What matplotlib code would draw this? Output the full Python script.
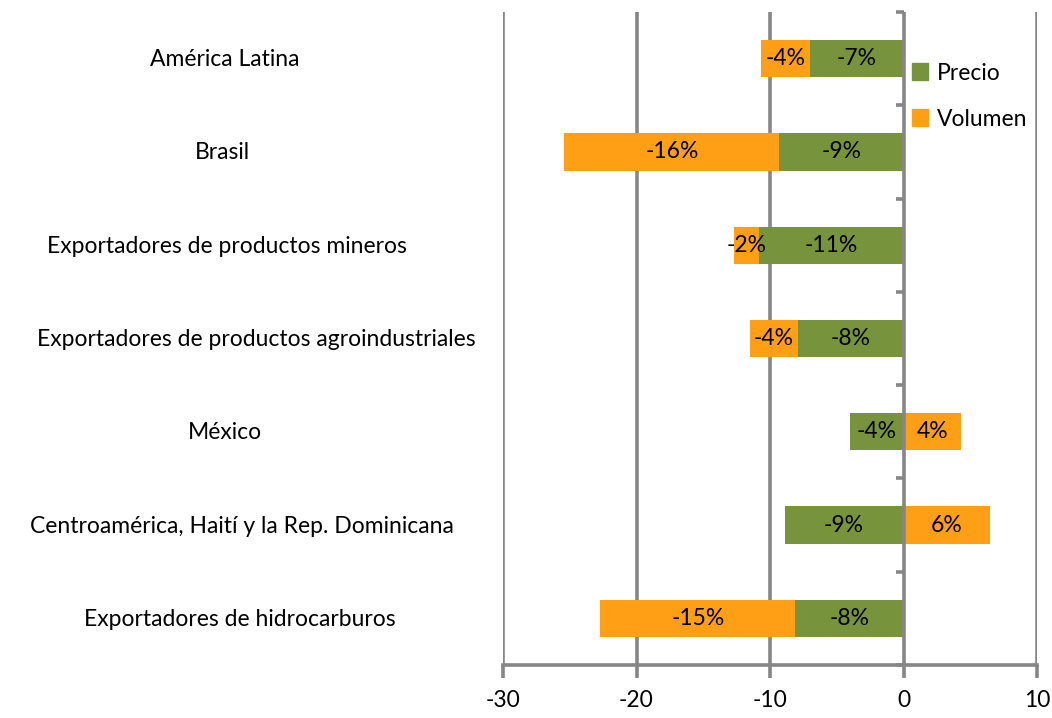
import matplotlib
matplotlib.use("Agg")
import matplotlib.pyplot as plt
from matplotlib.patches import Patch

plt.rcParams['font.family'] = ['Lato', 'DejaVu Sans']

categorias = [
    "América Latina",
    "Brasil",
    "Exportadores de productos mineros",
    "Exportadores de productos agroindustriales",
    "México",
    "Centroamérica, Haití y la Rep. Dominicana",
    "Exportadores de hidrocarburos",
]
precio = [-7.0, -9.3, -10.8, -7.9, -4.0, -8.9, -8.1]
volumen = [-3.7, -16.1, -1.9, -3.6, 4.3, 6.45, -14.6]
xticks = [-30, -20, -10, 0, 10]

VERDE = "#77933C"
NARANJA = "#FF9F15"
GRIS = "#868686"

W, H = 1052, 718
fig = plt.figure(figsize=(W / 100, H / 100), dpi=100)
ax = fig.add_axes([503 / W, 1 - 665 / H, (1037 - 503) / W, (665 - 12) / H])

n = len(categorias)
ys = list(range(n))
alto = 0.4
LW = 2.6

# price segment starts at zero; volume stacks after price when both share a sign
izq_vol = [p if (v < 0 and p < 0) or (v > 0 and p > 0) else 0 for p, v in zip(precio, volumen)]
ax.barh(ys, precio, height=alto, color=VERDE, zorder=3)
ax.barh(ys, volumen, left=izq_vol, height=alto, color=NARANJA, zorder=3)

fs = 16.5
for y, p, v, l in zip(ys, precio, volumen, izq_vol):
    ax.text(p / 2, y, f"{p:.0f}%", ha="center", va="center", fontsize=fs, zorder=5)
    ax.text(l + v / 2, y, f"{v:.0f}%", ha="center", va="center", fontsize=fs, zorder=5)

ax.set_xlim(-30, 10)
ax.set_ylim(n - 0.5, -0.5)
ax.set_xticks(xticks)
ax.set_xticklabels([str(t) for t in xticks], fontsize=fs)
ax.tick_params(axis="x", length=9, width=LW, color=GRIS, pad=9)
ax.set_yticks([])

for x in xticks:
    if x != 0:
        ax.axvline(x, color=GRIS, lw=LW, zorder=1)

for s in ["top", "right", "left"]:
    ax.spines[s].set_visible(False)
ax.spines["bottom"].set_color(GRIS)
ax.spines["bottom"].set_linewidth(LW)

# category axis at x = 0 with boundary ticks pointing left
ax.axvline(0, color=GRIS, lw=LW, zorder=4)
for b in range(n + 1):
    yb = b - 0.5
    ax.plot([-0.55, 0], [yb, yb], color=GRIS, lw=LW, zorder=4, solid_capstyle="butt",
            clip_on=False)

# category labels, centred to the left of the plot area
centros = [225, 222, 227, 256, 225, 242, 240]
for y, c, cx in zip(ys, categorias, centros):
    xf = cx / W
    yf = ax.transData.transform((0, y))[1] / fig.dpi / fig.get_figheight()
    fig.text(xf, yf - 1 / H, c, ha="center", va="center", fontsize=fs)

leg = ax.legend(
    handles=[Patch(color=VERDE, label="Precio"), Patch(color=NARANJA, label="Volumen")],
    loc="upper left", bbox_to_anchor=(907 / W, 1 - 58 / H), bbox_transform=fig.transFigure,
    frameon=True, fontsize=fs, handlelength=0.7, handleheight=0.75, handletextpad=0.4,
    labelspacing=1.1, borderpad=0.2, borderaxespad=0,
)
leg.get_frame().set_edgecolor("none")
leg.get_frame().set_facecolor("white")
leg.get_frame().set_alpha(1)
leg.set_zorder(6)

fig.savefig("out.png", dpi=100, facecolor="white")
